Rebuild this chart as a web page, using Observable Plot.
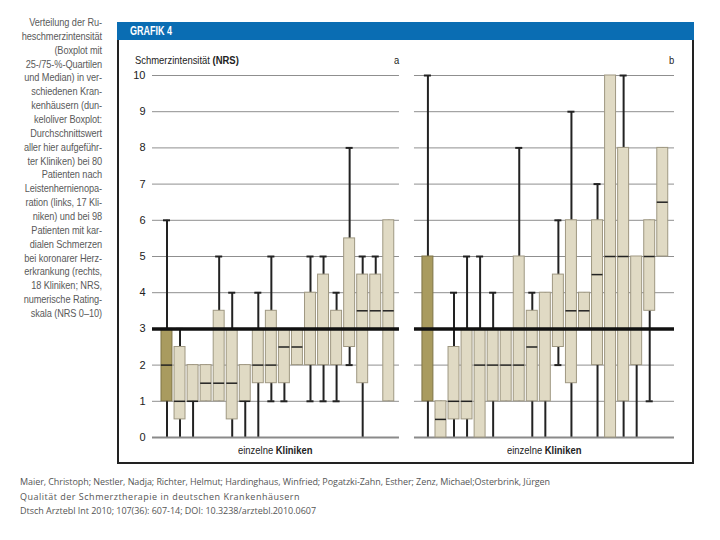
<!DOCTYPE html>
<html><head><meta charset="utf-8">
<script src="https://cdn.jsdelivr.net/npm/d3@7"></script>
<script src="https://cdn.jsdelivr.net/npm/@observablehq/plot@0.6"></script>
<style>
body{margin:0;background:#fff;width:720px;height:540px;position:relative;overflow:hidden;font-family:"Liberation Sans",Arial,sans-serif;}
#side{position:absolute;left:0;top:16px;width:102px;text-align:right;font-size:11.5px;line-height:13.86px;color:#5a5a5a;white-space:nowrap;transform:scaleX(0.8);transform-origin:right top;letter-spacing:-0.1px;}
#head{position:absolute;left:117px;top:22px;width:577px;height:18px;background:#0a6db3;}
#head span{position:absolute;left:13px;top:0;color:#fff;font-weight:bold;font-size:12px;line-height:18px;transform-origin:left center;white-space:nowrap;}
#frame{position:absolute;left:117px;top:40px;width:577px;height:424px;border:2px solid #222;border-top:none;box-sizing:border-box;}
#chart{position:absolute;left:119px;top:40px;}
.lbl{position:absolute;font-size:11.5px;color:#222;white-space:nowrap;line-height:14px;}
#cap{position:absolute;left:20px;top:475px;font-family:"Open Sans",sans-serif;font-size:9px;line-height:14.5px;color:#555;white-space:nowrap;}
#cap div{display:block;}
#cap span{display:inline-block;}
</style></head>
<body>
<div id="side">Verteilung der Ru-<br>heschmerzintensität<br>(Boxplot mit<br>25-/75-%-Quartilen<br>und Median) in ver-<br>schiedenen Kran-<br>kenhäusern (dun-<br>keloliver Boxplot:<br>Durchschnittswert<br>aller hier aufgeführ-<br>ter Kliniken) bei 80<br>Patienten nach<br>Leistenhernienopa-<br>ration (links, 17 Kli-<br>niken) und bei 98<br>Patienten mit kar-<br>dialen Schmerzen<br>bei koronarer Herz-<br>erkrankung (rechts,<br>18 Kliniken; NRS,<br>numerische Rating-<br>skala (NRS 0–10)</div>
<div id="head"><span id="headText">GRAFIK 4</span></div>
<div id="frame"></div>
<div id="chart"></div>
<div id="cap">
<div><span data-w="530">Maier, Christoph; Nestler, Nadja; Richter, Helmut; Hardinghaus, Winfried; Pogatzki-Zahn, Esther; Zenz, Michael;Osterbrink, Jürgen</span></div>
<div><span data-w="280">Qualität der Schmerztherapie in deutschen Krankenhäusern</span></div>
<div><span data-w="296">Dtsch Arztebl Int 2010; 107(36): 607-14; DOI: 10.3238/arztebl.2010.0607</span></div>
</div>
<script>
// Panel a: index 0 = mean of all clinics (dark), then 17 clinics
const aLo  = [0, 0, 0, 1, 1, 0, 0, 0, 1, 1, 2, 1, 1, 1, 2, 0, 3, 1];
const aQ1  = [1, 0.5, 1, 1, 1, 0.5, 1, 1.5, 1.5, 1.5, 2, 2, 2, 2, 2.5, 1.5, 3, 1];
const aMed = [2, 1, 1, 1.5, 1.5, 1.5, 1, 2, 2, 2.5, 2.5, 3, 3, 3, 3, 3.5, 3.5, 3.5];
const aQ3  = [3, 2.5, 2, 2, 3.5, 3, 2, 3, 3.5, 3, 3, 4, 4.5, 3.5, 5.5, 4.5, 4.5, 6];
const aHi  = [6, 3, 2, 2, 5, 4, 2, 4, 5, 3, 3, 5, 5, 4, 8, 5, 5, 6];
// Panel b: index 0 = mean of all clinics (dark), then 18 clinics
const bLo  = [0, 0, 0, 0, 0, 0, 1, 1, 0, 0, 2, 0, 3, 0, 0, 0, 0, 1, 5];
const bQ1  = [1, 0, 0.5, 0.5, 0, 1, 1, 1, 1, 1, 2.5, 1.5, 3, 2, 0, 1, 2, 3.5, 5];
const bMed = [3, 0.5, 1, 1, 2, 2, 2, 2, 2.5, 3, 3, 3.5, 3.5, 4.5, 5, 5, 3, 5, 6.5];
const bQ3  = [5, 1, 2.5, 3, 3, 3, 3, 5, 3.5, 4, 4.5, 6, 4, 6, 10, 8, 5, 6, 8];
const bHi  = [10, 1, 4, 5, 5, 4, 3, 8, 4, 4, 6, 9, 4, 7, 10, 10, 5, 6, 8];
const yTicks = [0, 1, 2, 3, 4, 5, 6, 7, 8, 9, 10];
const refLine = 3;
const panelNames = ["a", "b"];

const bOffset = 20;
const rows = [];
aLo.forEach((_, i) => rows.push({panel: "a", x: i, dark: i === 0, lo: aLo[i], q1: aQ1[i], med: aMed[i], q3: aQ3[i], hi: aHi[i]}));
bLo.forEach((_, i) => rows.push({panel: "b", x: bOffset + i, dark: i === 0, lo: bLo[i], q1: bQ1[i], med: bMed[i], q3: bQ3[i], hi: bHi[i]}));

const ext = {a: [-1.11, aLo.length - 1 + 0.82], b: [bOffset - 1.03, bOffset + bLo.length - 1 + 0.9]};
const gridRows = [];
panelNames.forEach(p => yTicks.forEach(t => gridRows.push({panel: p, y: t, x1: ext[p][0], x2: ext[p][1]})));
const refRows = panelNames.map(p => ({y: refLine, x1: ext[p][0], x2: ext[p][1]}));

const hw = 0.42, cw = 0.27;
const light = "#e0dac4", lightStroke = "#9f9882", dark = "#a99b5f", darkStroke = "#7f7447";

const chart = Plot.plot({
  width: 573, height: 422,
  marginTop: 35, marginBottom: 25, marginLeft: 33, marginRight: 18,
  x: {domain: [ext.a[0], ext.b[1]], axis: null},
  y: {domain: [0, 10], axis: null},
  style: {fontFamily: "'Liberation Sans',Arial,sans-serif", fontSize: "11px", color: "#222", background: "transparent"},
  marks: [
    Plot.ruleY(gridRows.filter(d => d.y !== 0), {y: "y", x1: "x1", x2: "x2", stroke: "#8f8f8f", strokeWidth: 1}),
    Plot.ruleX(rows, {x: "x", y1: "lo", y2: "hi", stroke: "#222", strokeWidth: 2}),
    Plot.ruleY(rows.filter(d => d.hi > d.q3), {y: "hi", x1: d => d.x - cw, x2: d => d.x + cw, stroke: "#222", strokeWidth: 2}),
    Plot.ruleY(rows.filter(d => d.lo < d.q1 && d.lo > 0), {y: "lo", x1: d => d.x - cw, x2: d => d.x + cw, stroke: "#222", strokeWidth: 2}),
    Plot.ruleY(gridRows.filter(d => d.y === 0), {y: "y", x1: "x1", x2: "x2", stroke: "#8a8a8a", strokeWidth: 2}),
    Plot.rect(rows.filter(d => !d.dark), {x1: d => d.x - hw, x2: d => d.x + hw, y1: "q1", y2: "q3", fill: light, stroke: lightStroke, strokeWidth: 1}),
    Plot.rect(rows.filter(d => d.dark), {x1: d => d.x - hw, x2: d => d.x + hw, y1: "q1", y2: "q3", fill: dark, stroke: darkStroke, strokeWidth: 1}),
    Plot.ruleY(rows, {y: "med", x1: d => d.x - hw, x2: d => d.x + hw, stroke: "#222", strokeWidth: 1.5}),
    Plot.ruleY(refRows, {y: "y", x1: "x1", x2: "x2", stroke: "#111", strokeWidth: 3.5}),
    Plot.axisY(yTicks, {tickSize: 0, tickPadding: 7, fontSize: 11, label: null, tickFormat: d => String(d)})
  ]
});
document.getElementById("chart").appendChild(chart);

// Annotations positioned through the chart's scales
const sx = chart.scale("x"), sy = chart.scale("y");
const ox = 119, oy = 40;
const narrow = 0.82;
function addLabel(html, left, top, align) {
  const el = document.createElement("div");
  el.className = "lbl";
  el.innerHTML = html;
  document.body.appendChild(el);
  const w = el.getBoundingClientRect().width * narrow;
  const l = align === "end" ? left - w : align === "middle" ? left - w / 2 : left;
  el.style.transform = "scaleX(" + narrow + ")";
  el.style.transformOrigin = "left top";
  el.style.left = l + "px";
  el.style.top = top + "px";
}
const yTop = oy + sy.apply(10);
const yBot = oy + sy.apply(0);
addLabel('Schmerzintensität <b>(NRS)</b>', 135, yTop - 22, "start");
panelNames.forEach(p => {
  addLabel(p, ox + sx.apply(ext[p][1]), yTop - 22, "end");
  addLabel('einzelne <b>Kliniken</b>', ox + sx.apply((ext[p][0] + ext[p][1]) / 2), yBot + 6, "middle");
});

// header text fitted to its width in the reference
const ht = document.getElementById("headText");
ht.style.transform = "scaleX(" + (42 / ht.getBoundingClientRect().width) + ")";

// fit caption lines
document.querySelectorAll("#cap span").forEach(s => {
  const target = +s.dataset.w;
  const w = s.getBoundingClientRect().width;
  const n = s.textContent.length;
  s.style.letterSpacing = ((target - w) / n) + "px";
});
</script>
</body></html>
